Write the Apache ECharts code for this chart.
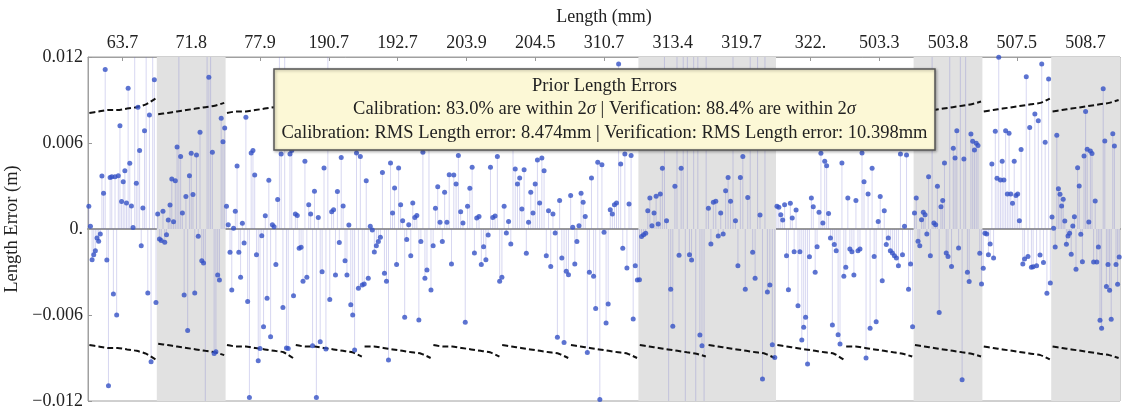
<!DOCTYPE html>
<html>
<head>
<meta charset="utf-8">
<title>Prior Length Errors</title>
<script src="https://cdn.jsdelivr.net/npm/echarts@6/dist/echarts.min.js"></script>
<style>
html, body { margin: 0; padding: 0; background: #fff; }
#chart { width: 1123px; height: 407px; }
</style>
</head>
<body>
<div id="chart"></div>
<script>
// group labels (length in mm), one per block of measurements
var lengths = ['63.7', '71.8', '77.9', '190.7', '192.7', '203.9', '204.5', '310.7',
  '313.4', '319.7', '322.', '503.3', '503.8', '507.5', '508.7'];

// length errors (m) per group, left to right; +-0.015 = off the scale
var g01 = [0.00158, 0.00019, -0.00214, -0.00179, -0.00151, -0.00063, -0.00086, -0.00035, 0.0037, 0.00249,
  0.01112, -0.00216, -0.01093, 0.0036, 0.00365, -0.00454, 0.00365, -0.006, 0.00372, 0.00721,
  0.00191, 0.0033, 0.00407, 0.00181, 0.00982, 0.00458, 0.0016, 0.0001, 0.015, 0.0032,
  0.00849, 0.00547, -0.00116, 0.00147, 0.00686, 0.015, -0.00447, 0.00796, -0.00926, 0.015, 0.01042, -0.00512];
var g02 = [0.00105, -0.0007, -0.00081, 0.00123, -0.00093, -0.0004, 0.00063, 0.00167, 0.00349, 0.00051,
  0.00337, 0.00572, 0.015, 0.00505, 0.00112, -0.00461, 0.00226, -0.00709, 0.00372, 0.00528,
  0.0024, -0.00447, 0.00516, -0.00051, 0.00675, -0.00221, -0.00237, -0.015, 0.015, 0.01058,
  0.015, 0.00535, -0.00868, -0.00856, -0.00321, -0.00356, 0.00772, 0.00609, 0.00705];
var g03 = [0.00158, 0.0003, -0.00163, -0.00426, 0.00005, 0.00123, 0.0044, -0.00163, -0.00337, 0.0004,
  -0.00098, 0.00779, -0.00505, -0.01175, 0.0053, 0.00547, 0.00377, -0.00179, -0.00919, -0.00833,
  -0.00047, -0.00682, 0.00093, -0.00484, 0.0034, -0.00751, 0.0003, 0.00016, -0.00247, 0.00205,
  0.015, 0.00523, -0.00547, 0.015, -0.0083, -0.00833, 0.00523, 0.00547, -0.00465];
var g04 = [0.00105, 0.00095, -0.00135, -0.00128, -0.00365, 0.00472, -0.00337, 0.0017, 0.00105, -0.00814,
  0.00263, -0.01175, 0.00081, -0.00786, -0.00298, 0.00426, -0.00837, 0.015, -0.00491, 0.00121,
  0.00135, -0.00321, 0.00261, -0.00095, 0.00498, 0.0016, -0.00221, -0.00321, 0.00028, -0.00528,
  -0.006, -0.00844, 0.0053, -0.00414, 0.00505, -0.00391];
var g05 = [-0.00384, 0.00337, -0.00344, 0.00019, -0.00007, -0.0016, -0.00116, -0.00088, -0.00058, 0.00395,
  -0.00309, -0.00365, -0.00914, 0.00461, 0.00112, 0.00286, -0.00247, 0.00426, 0.0017, 0.00058,
  -0.00616, -0.00074, 0.0003, -0.00186, 0.00181, 0.00081, 0.00095, -0.00635, -0.00088, 0.00535,
  -0.00344, -0.00286, 0.008, -0.00426];
var g06 = [-0.00116, 0.00144, 0.00295, 0.00047, -0.00088, 0.00256, 0.00047, 0.00379, -0.00244, 0.00377,
  0.00314, 0.00512, 0.00121, 0.00042, -0.00651, 0.00158, 0.00284, 0.0043, -0.00167, 0.00077,
  0.00088, -0.00247, -0.00123, -0.00214, -0.00042, 0.0043, 0.00081, 0.00091, 0.00505, -0.00365];
var g07 = [-0.00337, 0.00158, -0.00028, 0.00053, -0.00105, 0.0068, 0.00419, 0.00314, 0.00356, 0.0014,
  0.00414, -0.0017, 0.00047, 0.00256, 0.00112, 0.00314, 0.00481, 0.00181, 0.00495, 0.00407,
  -0.00186, 0.00128, -0.00261, 0.00105, -0.00028, -0.00756, 0.00198, -0.00202, -0.00791, -0.00295, -0.00319];
var g08 = [0.00233, 0.00012, -0.00244, -0.00088, 0.00023, 0.00249, 0.00186, 0.00088, -0.00861, -0.00302,
  0.00356, -0.0033, -0.00554, 0.00465, -0.0119, 0.00449, -0.00023, -0.00656, -0.00523, 0.00135,
  0.00105, 0.0017, 0.00181, 0.01151, 0.00454, -0.00135, 0.00523, -0.00272, 0.00174, 0.00512,
  -0.00628, -0.00256, -0.00356];
var g09 = [-0.00354, -0.00053, -0.0004, -0.0003, 0.00128, 0.00216, 0.00023, 0.00112, 0.00228, 0.00035,
  0.00244, 0.00423, 0.015, 0.00058, -0.015, -0.00421, -0.00679, 0.00298, 0.015, -0.00184,
  0.00423, 0.015, -0.015, 0.015, -0.00179, -0.00216, 0.015, -0.015, 0.015, -0.0074,
  -0.00814, -0.015, 0.015];
var g10 = [0.00144, -0.00105, 0.00186, 0.00193, -0.00049, 0.00112, -0.00035, 0.00267, 0.0036, 0.00193,
  0.015, 0.00058, -0.00256, 0.0036, 0.00505, -0.00421, 0.00219, 0.015, -0.00163, -0.00344,
  0.015, 0.00098, -0.01047, 0.015, -0.0044, -0.00391, -0.00807, -0.00896];
var g11 = [0.00158, 0.00151, 0.001, 0.00063, 0.0017, -0.00186, -0.00423, 0.00179, 0.00077, -0.00158,
  0.00133, -0.00535, -0.00158, -0.00775, -0.00686, -0.00616, -0.00942, -0.00193, 0.00216, 0.00156,
  -0.00302, -0.00123, 0.00116, 0.00528, 0.00042, 0.00472, 0.00442, 0.00109, -0.00063, -0.0067,
  -0.00109, -0.00151, -0.00737, -0.00802, 0.00461, -0.0033];
var g12 = [-0.00267, 0.00216, -0.0014, -0.00158, -0.00321, 0.00198, -0.00151, -0.0014, 0.0053, 0.0033,
  -0.009, 0.00244, -0.00693, 0.00423, -0.00191, -0.00647, 0.00053, 0.00226, -0.00361, 0.00128,
  -0.00109, -0.00063, -0.00151, -0.00167, -0.00186, -0.00202, -0.00256, 0.00523, -0.00179, 0.00019,
  0.00516, -0.00421, -0.00244, -0.00682];
var g13 = [0.00112, 0.00216, -0.00086, -0.00116, 0.00065, 0.00116, 0.001, -0.00035, 0.00365, -0.00186,
  0.015, 0.00042, 0.0003, 0.00298, -0.00582, 0.00156, 0.00198, 0.00461, -0.00167, -0.00191,
  0.015, -0.00261, 0.00563, 0.00495, 0.00686, -0.00133, 0.015, -0.01051, 0.00488, 0.015,
  -0.00302, -0.00367, 0.00663, 0.00612, 0.00551, 0.00598, 0.00582, -0.0017, -0.00384];
var g14 = [-0.00274, -0.0003, -0.00035, -0.00179, -0.00105, 0.00454, -0.00202, 0.00682, 0.00354, 0.01198,
  0.00342, 0.00472, 0.00342, 0.00686, 0.00244, 0.00668, 0.00244, 0.00179, 0.00472, 0.00233,
  0.00244, 0.00058, 0.00554, -0.00244, -0.00209, 0.01063, -0.00191, 0.00709, -0.00267, -0.00263,
  0.00802, -0.00256, 0.00756, -0.00181, 0.01151, -0.00233, 0.00605, -0.00449, 0.01047, -0.00377];
var g15 = [0.00084, 0.00005, -0.00126, 0.00654, 0.00281, 0.00242, 0.0016, 0.00207, 0.00056, -0.00107,
  -0.00049, -0.0003, -0.00177, 0.00021, 0.00086, -0.00281, 0.00428, 0.003, -0.00037, -0.00228,
  0.00509, 0.00819, 0.00556, 0.00049, 0.00544, 0.00526, -0.0023, 0.00195, -0.0023, -0.00126,
  -0.00637, -0.00693, 0.00979, 0.00614, -0.00402, -0.00247, -0.00428, -0.0063, 0.00665, 0.00579,
  -0.00247, -0.00386, -0.00195];

// 2 sigma limit (m) sampled evenly across each group
var t01 = [0.0081, 0.0082, 0.0083, 0.0083, 0.0084, 0.0085, 0.0087, 0.0091];
var t02 = [0.0080, 0.0081, 0.0082, 0.0083, 0.0084, 0.0085, 0.0086, 0.0088];
var t03 = [0.0081, 0.0082, 0.0082, 0.0083, 0.0084, 0.0085, 0.0086, 0.0090];
var t04 = [0.0081, 0.0082, 0.0082, 0.0083, 0.0084, 0.0085, 0.0086, 0.0089];
var t05 = [0.0082, 0.0082, 0.0083, 0.0084, 0.0085, 0.0086, 0.0087, 0.0090];
var t06 = [0.0081, 0.0082, 0.0082, 0.0083, 0.0084, 0.0085, 0.0086, 0.0089];
var t07 = [0.0081, 0.0082, 0.0083, 0.0084, 0.0085, 0.0086, 0.0087, 0.0090];
var t08 = [0.0081, 0.0082, 0.0083, 0.0084, 0.0085, 0.0086, 0.0087, 0.0090];
var t09 = [0.0081, 0.0082, 0.0083, 0.0084, 0.0085, 0.0086, 0.0087, 0.0089];
var t10 = [0.0081, 0.0082, 0.0083, 0.0084, 0.0085, 0.0086, 0.0087, 0.0090];
var t11 = [0.0081, 0.0082, 0.0083, 0.0084, 0.0085, 0.0086, 0.0087, 0.0091];
var t12 = [0.0082, 0.0082, 0.0083, 0.0084, 0.0085, 0.0086, 0.0087, 0.0089];
var t13 = [0.0081, 0.0082, 0.0083, 0.0084, 0.0085, 0.0086, 0.0087, 0.0089];
var t14 = [0.0082, 0.0083, 0.0084, 0.0085, 0.0086, 0.0087, 0.0088, 0.0091];
var t15 = [0.0082, 0.0083, 0.0084, 0.0085, 0.0086, 0.0087, 0.0088, 0.0090];

// verification groups drawn on grey (zero based)
var shaded = [[1, 2], [8, 10], [12, 13], [14, 15]];

var yTicks = [-0.012, -0.006, 0, 0.006, 0.012];

var groups = [g01, g02, g03, g04, g05, g06, g07, g08, g09, g10, g11, g12, g13, g14, g15];
var limits = [t01, t02, t03, t04, t05, t06, t07, t08, t09, t10, t11, t12, t13, t14, t15];

var serif = 'Liberation Serif';

// 1. points: spread each group evenly inside its slot
var points = [];
groups.forEach(function(g, gi) {
	g.forEach(function(v, i) {
		points.push([gi + (i + 0.5) / g.length, v]);
	});
});

// 2. series
var series = [{
	name : 'stems',
	type : 'bar',
	data : points,
	barWidth : 1,
	silent : true,
	itemStyle : { color : 'rgba(110,110,205,0.28)' },
	markArea : {
		silent : true,
		itemStyle : { color : '#e1e1e1' },
		data : shaded.map(function(s) {
			return [ { xAxis : s[0] }, { xAxis : s[1] } ];
		})
	},
	z : 1
}, {
	name : 'errors',
	type : 'scatter',
	data : points,
	symbolSize : 5,
	itemStyle : { color : '#3451c6' },
	z : 4
}];

limits.forEach(function(t, gi) {
	var up = [], dn = [];
	t.forEach(function(v, k) {
		var x = gi + 0.02 + k * 0.96 / (t.length - 1);
		up.push([x, v]);
		dn.push([x, -v]);
	});
	[up, dn].forEach(function(d) {
		series.push({
			type : 'line',
			data : d,
			smooth : 0.2,
			showSymbol : false,
			silent : true,
			lineStyle : { color : '#111', width : 2, type : [6, 3] },
			z : 3
		});
	});
});

var chart = echarts.init(document.getElementById('chart'));
chart.setOption({
	animation : false,
	backgroundColor : '#fff',
	grid : {
		left : 88, right : 3, top : 57, bottom : 6,
		outerBoundsMode : 'none',
		show : true, borderColor : '#a0a0a0', borderWidth : 1
	},
	xAxis : [ {
		type : 'value', min : 0, max : 15,
		axisLine : { show : true, onZero : true, lineStyle : { color : '#999', width : 2 } },
		axisTick : { show : false }, axisLabel : { show : false },
		splitLine : { show : false }
	}, {
		type : 'category', position : 'top', data : lengths,
		name : 'Length (mm)', nameLocation : 'middle', nameGap : 31,
		nameTextStyle : { fontFamily : serif, fontSize : 18, color : '#222' },
		axisLine : { show : true, lineStyle : { color : '#a0a0a0' } },
		axisTick : { show : true, inside : true, alignWithLabel : true, length : 4, lineStyle : { color : '#999' } },
		axisLabel : { fontFamily : serif, fontSize : 18, color : '#222', margin : 5 },
		splitLine : { show : false }
	} ],
	yAxis : {
		type : 'value', min : yTicks[0], max : yTicks[yTicks.length - 1], interval : 0.006,
		name : 'Length Error (m)', nameLocation : 'middle', nameGap : 58,
		nameTextStyle : { fontFamily : serif, fontSize : 18.5, color : '#222' },
		axisLine : { show : true, lineStyle : { color : '#a0a0a0' } },
		axisTick : { show : true, inside : true, length : 4, lineStyle : { color : '#999' } },
		axisLabel : {
			fontFamily : serif, fontSize : 18, color : '#222', margin : 5,
			formatter : function(v) {
				if (Math.abs(v) < 1e-9) return '0.';
				return (v < 0 ? '\u2212' : '') + Math.abs(v).toFixed(3);
			}
		},
		splitLine : { show : false }
	},
	graphic : [ {
		type : 'rect',
		shape : { x : 274, y : 69, width : 661, height : 81 },
		style : { fill : '#fcf8d6', stroke : '#555', lineWidth : 1.5,
			shadowBlur : 3, shadowColor : 'rgba(0,0,0,0.3)', shadowOffsetX : 1, shadowOffsetY : 1 },
		z : 10
	}, {
		type : 'text',
		x : 604.5, y : 74,
		style : {
			text : 'Prior Length Errors\n'
				+ 'Calibration: 83.0% are within 2{i|\u03c3} | Verification: 88.4% are within 2{i|\u03c3}\n'
				+ 'Calibration: RMS Length error: 8.474mm | Verification: RMS Length error: 10.398mm',
			align : 'center',
			fontFamily : serif, fontSize : 18.5, lineHeight : 23.5, fill : '#222',
			rich : { i : { fontStyle : 'italic', fontFamily : serif, fontSize : 18.5, lineHeight : 23.5 } }
		},
		z : 11
	} ],
	series : series
});
</script>
</body>
</html>
